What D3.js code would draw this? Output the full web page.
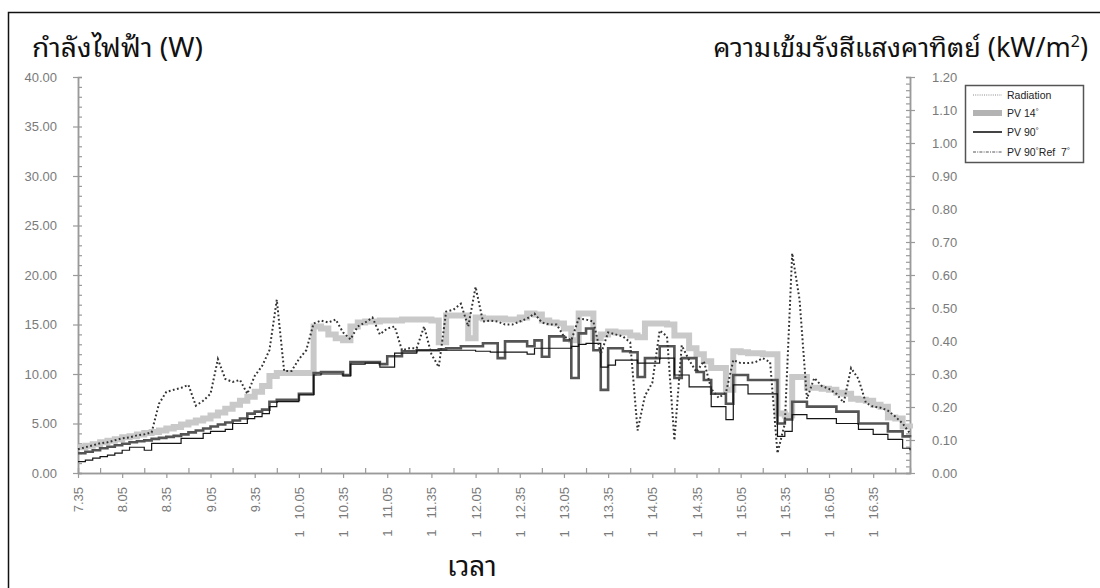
<!DOCTYPE html>
<html><head><meta charset="utf-8">
<script src="https://cdn.jsdelivr.net/npm/d3@7/dist/d3.min.js"></script>
<style>body{margin:0;background:#fff}svg{display:block}</style>
</head><body><svg id="c" width="1100" height="588"></svg>
<script>
// ---- data ----
const times = ["7:35","7:40","7:45","7:50","7:55","8:00","8:05","8:10","8:15","8:20",
"8:25","8:30","8:35","8:40","8:45","8:50","8:55","9:00","9:05","9:10",
"9:15","9:20","9:25","9:30","9:35","9:40","9:45","9:50","9:55","10:00",
"10:05","10:10","10:15","10:20","10:25","10:30","10:35","10:40","10:45","10:50",
"10:55","11:00","11:05","11:10","11:15","11:20","11:25","11:30","11:35","11:40",
"11:45","11:50","11:55","12:00","12:05","12:10","12:15","12:20","12:25","12:30",
"12:35","12:40","12:45","12:50","12:55","13:00","13:05","13:10","13:15","13:20",
"13:25","13:30","13:35","13:40","13:45","13:50","13:55","14:00","14:05","14:10",
"14:15","14:20","14:25","14:30","14:35","14:40","14:45","14:50","14:55","15:00",
"15:05","15:10","15:15","15:20","15:25","15:30","15:35","15:40","15:45","15:50",
"15:55","16:00","16:05","16:10","16:15","16:20","16:25","16:30","16:35","16:40",
"16:45","16:50","16:55","17:00"];
// PV 14° (W)
const pv14 = [2.6,2.75,2.9,3.1,3.25,3.4,3.6,3.7,3.9,4.05,
4.15,4.3,4.5,4.65,4.9,5.1,5.3,5.5,5.8,6.1,
6.5,6.9,7.3,7.7,8.2,8.8,9.8,10.1,10.1,10.1,
10.1,10.1,14.8,14.6,14.0,13.6,13.4,14.8,15.2,15.3,
15.3,15.4,15.4,15.4,15.5,15.5,15.5,15.5,15.4,13.2,
15.9,15.9,15.9,13.6,15.7,15.6,15.6,15.6,15.5,15.5,
15.7,16.1,16.0,15.4,15.2,15.1,14.6,13.4,16.1,16.1,
13.6,14.0,14.3,14.2,14.2,13.9,13.7,15.1,15.1,15.1,
15.0,13.9,13.9,12.6,12.0,11.3,10.6,10.6,8.4,12.3,
12.2,12.1,12.1,12.0,12.0,6.0,5.8,9.7,9.7,8.6,
8.6,8.5,8.4,8.1,8.0,7.5,7.4,7.3,6.9,6.7,
5.6,5.5,4.7,4.5];
// PV 90° (W)
const pv90 = [2.0,2.15,2.3,2.5,2.65,2.8,2.95,3.1,3.2,3.3,
3.45,3.55,3.65,3.75,3.9,4.1,4.3,4.5,4.7,4.9,
5.1,5.3,5.5,6.0,6.2,6.4,7.2,7.4,7.4,7.4,
8.0,8.0,10.1,10.2,10.2,10.2,9.9,11.2,11.2,11.2,
11.2,11.0,11.8,11.8,12.3,12.3,12.4,12.4,12.4,12.5,
12.6,12.6,12.8,12.8,12.8,13.1,13.1,11.6,13.3,13.3,
13.3,12.8,13.4,11.75,13.8,13.8,13.4,9.6,14.1,14.6,
12.4,8.4,12.6,12.6,12.3,12.2,9.7,11.6,11.6,12.8,
12.8,9.6,11.6,11.6,10.2,9.4,8.0,8.0,7.0,9.9,
9.9,9.4,9.4,9.4,9.4,5.0,5.4,7.2,7.2,6.7,
6.7,6.7,6.7,6.2,6.2,6.2,5.0,5.0,5.0,5.0,
4.2,4.2,3.7,3.6];
// PV 90° Ref 7° (W)
const pv90ref = [1.15,1.3,1.5,1.65,1.8,2.0,2.3,2.6,2.6,2.3,
3.0,3.0,3.0,3.0,3.5,3.5,3.5,4.0,4.2,4.2,
4.4,5.0,5.0,5.5,5.7,6.0,6.7,7.2,7.2,7.2,
7.9,7.9,9.9,10.0,10.0,10.0,9.8,11.0,11.0,11.1,
11.1,10.7,10.7,12.1,12.1,12.1,12.4,12.4,12.4,12.4,
12.4,12.4,12.4,12.4,12.3,12.3,12.2,12.2,12.2,12.2,
12.2,12.0,12.6,12.6,12.6,12.6,12.6,12.8,13.0,13.1,
13.1,10.7,10.9,11.4,11.4,11.4,11.1,11.1,11.1,11.6,
11.6,9.9,9.9,8.7,8.7,8.7,6.7,6.7,5.4,8.9,
8.9,8.0,8.0,8.0,8.0,3.7,4.2,5.9,5.9,5.5,
5.5,5.5,5.5,5.0,5.0,5.0,4.4,4.4,3.9,3.9,
3.4,3.4,2.5,2.3];
// Radiation (kW/m2)
const radiation = [0.072,0.078,0.084,0.090,0.093,0.099,0.105,0.108,0.114,0.117,
0.123,0.210,0.246,0.252,0.258,0.267,0.204,0.219,0.240,0.345,
0.285,0.276,0.282,0.240,0.294,0.324,0.372,0.525,0.309,0.309,
0.345,0.372,0.453,0.462,0.456,0.465,0.426,0.405,0.444,0.456,
0.471,0.420,0.438,0.444,0.372,0.378,0.378,0.444,0.360,0.321,
0.489,0.495,0.513,0.444,0.564,0.459,0.462,0.459,0.450,0.450,
0.459,0.468,0.483,0.456,0.450,0.450,0.414,0.402,0.468,0.465,
0.459,0.360,0.426,0.420,0.414,0.396,0.129,0.234,0.273,0.432,
0.414,0.099,0.387,0.342,0.306,0.339,0.255,0.228,0.243,0.342,
0.333,0.333,0.336,0.348,0.336,0.060,0.150,0.666,0.525,0.225,
0.288,0.264,0.255,0.240,0.213,0.318,0.285,0.213,0.201,0.198,
0.189,0.171,0.150,0.120];

const xTickTimes = ["7:35","8:05","8:35","9:05","9:35","10:05","10:35","11:05","11:35","12:05",
"12:35","13:05","13:35","14:05","14:35","15:05","15:35","16:05","16:35"];
const xTickLabels = ["7.35","8.05","8.35","9.05","9.35","1   10.05","1   10.35","1   11.05","1   11.35","1   12.05",
"1   12.35","1   13.05","1   13.35","1   14.05","1   14.35","1   15.05","1   15.35","1   16.05","1   16.35"];
const xMinorTimes = ["7:50","8:20","8:50","9:20","9:50","10:20","10:50","11:20","11:50","12:20",
"12:50","13:20","13:50","14:20","14:50","15:20","15:50","16:20","16:50"];
const leftTicks = [0,5,10,15,20,25,30,35,40];
const rightTicks = [0,0.1,0.2,0.3,0.4,0.5,0.6,0.7,0.8,0.9,1.0,1.1,1.2];
const seriesNames = ["Radiation","PV 14","PV 90","PV 90"];

const leftTitle = "กำลังไฟฟ้า (W)";
const rightTitle = "ความเข้มรังสีแสงคาทิตย์ (kW/m";
const xTitle = "เวลา";

// ---- chart ----
const toMin = s => { const [h,m] = s.split(":").map(Number); return h*60+m; };
const svg = d3.select("#c");
const FONT = "'Liberation Sans', Arial, sans-serif";
const THAI = "'Noto Sans Thai Looped','Loma','Garuda','Waree','Sawasdee','Umpush','Kinnari','Norasi','Noto Sans Thai','Noto Sans',sans-serif";

const x = d3.scaleLinear().domain([toMin("7:35"), toMin("17:00")]).range([78, 910]);
const yL = d3.scaleLinear().domain([0, 40]).range([473, 77]);
const yR = d3.scaleLinear().domain([0, 1.2]).range([473, 77]);

// frame
svg.append("rect").attr("x",8.5).attr("y",12.5).attr("width",1200).attr("height",700)
  .attr("fill","none").attr("stroke","#111").attr("stroke-width",1.5);

const axisColor = "#9a9a9a", labColor = "#7a7a7a";
function styleAxis(g){
  g.select(".domain").attr("stroke",axisColor).attr("stroke-width",1.5);
  g.selectAll(".tick line").attr("stroke",axisColor).attr("stroke-width",1.2);
  g.selectAll("text").attr("fill",labColor).style("font-family",FONT).style("font-size","13px");
}

// left axis
const minorL = d3.range(0, 41, 1);
svg.append("g").attr("transform","translate(78,0)")
  .call(d3.axisRight(yL).tickValues(minorL).tickSize(4).tickFormat(""))
  .call(styleAxis);
svg.append("g").attr("transform","translate(78,0)")
  .call(d3.axisLeft(yL).tickValues(leftTicks).tickFormat(d3.format(".2f")).tickSizeInner(5).tickSizeOuter(0).tickPadding(16))
  .call(styleAxis);

// right axis
const minorR = d3.range(0, 1.2001, 0.02);
svg.append("g").attr("transform","translate(910,0)")
  .call(d3.axisLeft(yR).tickValues(minorR).tickSize(4).tickFormat(""))
  .call(styleAxis);
svg.append("g").attr("transform","translate(910,0)")
  .call(d3.axisRight(yR).tickValues(rightTicks).tickFormat(d3.format(".2f")).tickSizeInner(5).tickSizeOuter(0).tickPadding(17))
  .call(styleAxis);

// bottom axis
svg.append("g").attr("transform","translate(0,473)")
  .call(d3.axisTop(x).tickValues(xMinorTimes.map(toMin)).tickSize(5).tickFormat(""))
  .call(styleAxis);
const xb = svg.append("g").attr("transform","translate(0,473)")
  .call(d3.axisBottom(x).tickValues(xTickTimes.map(toMin))
     .tickFormat((d,i) => xTickLabels[i]).tickSizeInner(5).tickSizeOuter(0))
  .call(styleAxis);
xb.selectAll(".tick text")
  .attr("transform","rotate(-90)").attr("x",-14).attr("y",0).attr("dy","0.35em")
  .attr("xml:space","preserve").style("white-space","pre").style("text-anchor","end");

// lines
const pts = arr => arr.map((v,i) => [toMin(times[i]), v]);
const lineL = d3.line().x(d => x(d[0])).y(d => yL(d[1])).curve(d3.curveStepAfter);
const lineR = d3.line().x(d => x(d[0])).y(d => yR(d[1]));

svg.append("path").attr("d", lineL(pts(pv14))).attr("fill","none")
  .attr("stroke","#c9c9c9").attr("stroke-width",6).attr("stroke-linejoin","miter");
svg.append("path").attr("d", lineL(pts(pv90))).attr("fill","none")
  .attr("stroke","#545454").attr("stroke-width",2.6);
svg.append("path").attr("d", lineL(pts(pv90ref))).attr("fill","none")
  .attr("stroke","#151515").attr("stroke-width",1.2);
svg.append("path").attr("d", lineR(pts(radiation))).attr("fill","none")
  .attr("stroke","#333").attr("stroke-width",2).attr("stroke-dasharray","1.8,2.4");

// titles
svg.append("text").attr("x",32).attr("y",57).text(leftTitle)
  .attr("textLength",171).attr("lengthAdjust","spacingAndGlyphs")
  .style("font-family",THAI).style("font-size","27px").attr("fill","#111");
const rt = svg.append("text").attr("x",1088).attr("y",57).attr("text-anchor","end")
  .style("font-family",THAI).style("font-size","27px").attr("fill","#111");
rt.append("tspan").text(rightTitle);
rt.append("tspan").text("2").attr("dy",-10).style("font-size","16px");
rt.append("tspan").text(")").attr("dy",10);
svg.append("text").attr("x",472).attr("y",576).attr("text-anchor","middle").text(xTitle)
  .style("font-family",THAI).style("font-size","28px").attr("fill","#111");

// legend
const lg = svg.append("g");
lg.append("rect").attr("x",965.5).attr("y",85.5).attr("width",118).attr("height",77)
  .attr("fill","#fff").attr("stroke","#555").attr("stroke-width",1.5);
const rows = [
  {y:95, stroke:"#8a8a8a", w:1, dash:"1,1.2", name:seriesNames[0], deg:[]},
  {y:113, stroke:"#b3b3b3", w:6, dash:null, name:seriesNames[1], deg:[""]},
  {y:132, stroke:"#444", w:2, dash:null, name:seriesNames[2], deg:[""]},
  {y:152, stroke:"#555", w:1, dash:"3,1.2,1,1.2", name:seriesNames[3], deg:["Ref  7",""]}
];
rows.forEach(r => {
  const ln = lg.append("line").attr("x1",973).attr("x2",1002).attr("y1",r.y).attr("y2",r.y)
    .attr("stroke",r.stroke).attr("stroke-width",r.w);
  if (r.dash) ln.attr("stroke-dasharray",r.dash);
  const t = lg.append("text").attr("x",1007).attr("y",r.y).attr("dy","0.35em")
    .style("font-family",FONT).style("font-size","10.5px").attr("fill","#222")
    .attr("xml:space","preserve").style("white-space","pre");
  t.append("tspan").text(r.name);
  r.deg.forEach(after => {
    t.append("tspan").text("°").attr("dy",-3).style("font-size","8px");
    if (after) t.append("tspan").text(after).attr("dy",3);
  });
});
</script></body></html>
